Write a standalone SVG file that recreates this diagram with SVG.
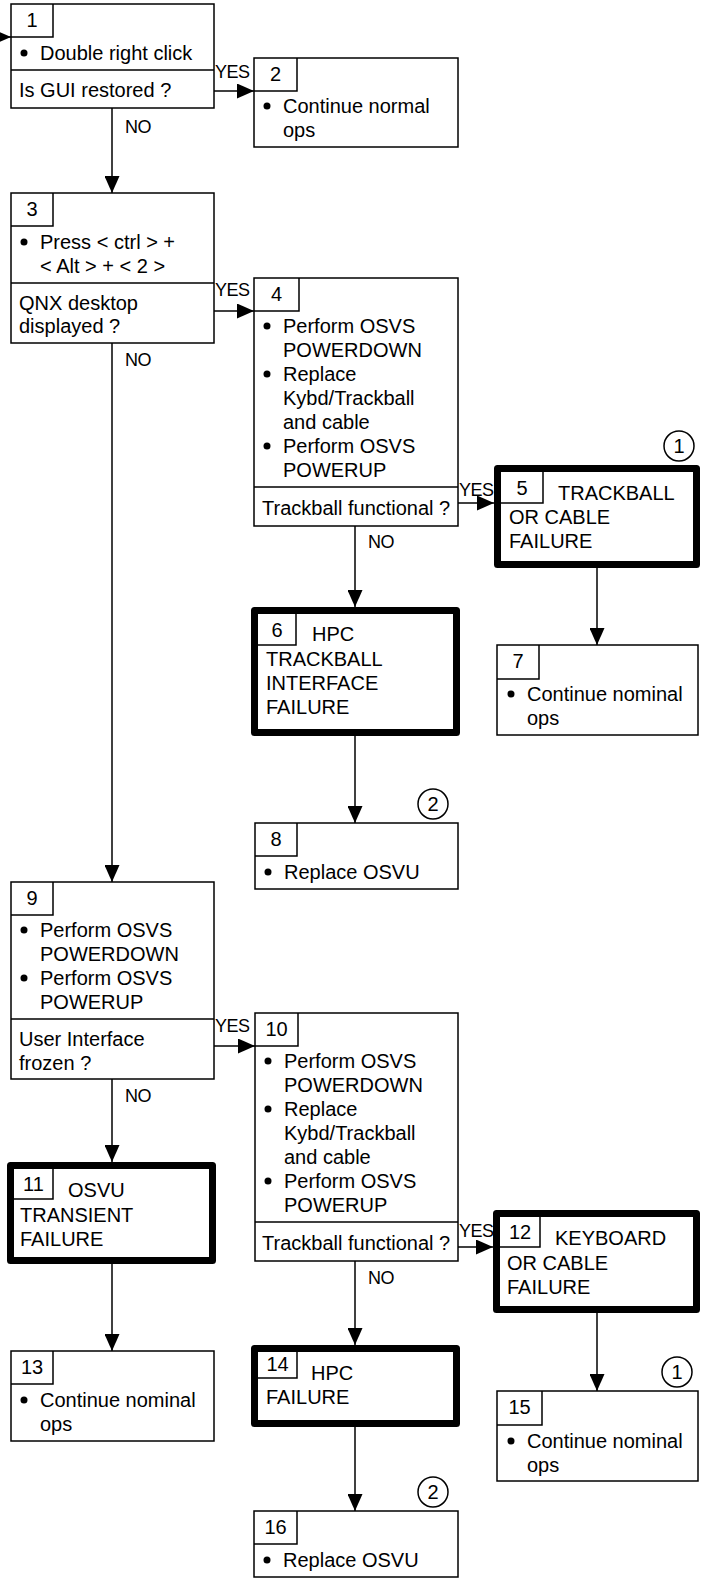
<svg xmlns="http://www.w3.org/2000/svg" width="701" height="1579" viewBox="0 0 701 1579">
<style>
.box{fill:#fff;stroke:#000;stroke-width:1.5}
.thick{fill:#fff;stroke:#000;stroke-width:7;stroke-linejoin:round}
.ln{fill:none;stroke:#000;stroke-width:1.5}
text{font-family:"Liberation Sans",Arial,sans-serif;font-size:20px;fill:#000}
.s{font-size:18px;letter-spacing:-0.5px}
.c{text-anchor:middle}
.circ{fill:#fff;stroke:#000;stroke-width:1.5}
.b{fill:#000}
</style>
<defs>
<marker id="ah" markerUnits="userSpaceOnUse" markerWidth="17" markerHeight="15" refX="17" refY="7.5" orient="auto">
<path d="M0,0 L17,7.5 L0,15 z" fill="#000"/>
</marker>
</defs>
<rect width="701" height="1579" fill="#fff"/>
<g id="connectors" class="ln" marker-end="url(#ah)">
<line x1="-10" y1="37" x2="11" y2="37"/>
<line x1="214" y1="91" x2="254" y2="91"/>
<line x1="112" y1="108" x2="112" y2="193"/>
<line x1="214" y1="311" x2="254" y2="311"/>
<line x1="112" y1="343" x2="112" y2="882"/>
<line x1="458" y1="503" x2="494" y2="503"/>
<line x1="355" y1="526" x2="355" y2="607"/>
<line x1="597" y1="568" x2="597" y2="645"/>
<line x1="355" y1="736" x2="355" y2="823"/>
<line x1="214" y1="1046" x2="255" y2="1046"/>
<line x1="112" y1="1079" x2="112" y2="1162"/>
<line x1="458" y1="1247" x2="493" y2="1247"/>
<line x1="355" y1="1261" x2="355" y2="1345"/>
<line x1="112" y1="1264" x2="112" y2="1351"/>
<line x1="597" y1="1313" x2="597" y2="1391"/>
<line x1="355" y1="1427" x2="355" y2="1511"/>
</g>
<g id="labels">
<text class="s" x="215" y="78">YES</text>
<text class="s" x="215" y="296">YES</text>
<text class="s" x="459" y="496">YES</text>
<text class="s" x="215" y="1032">YES</text>
<text class="s" x="459" y="1237">YES</text>
<text class="s" x="125" y="133">NO</text>
<text class="s" x="125" y="366">NO</text>
<text class="s" x="368" y="548">NO</text>
<text class="s" x="125" y="1102">NO</text>
<text class="s" x="368" y="1284">NO</text>
</g>
<g id="n1">
<rect class="box" x="11" y="4" width="203" height="104"/>
<path class="ln" d="M11,37 H53 V4 M11,70 H214"/>
<text class="c" x="32" y="27">1</text>
<circle class="b" cx="24" cy="53" r="3.5"/><text x="40" y="60">Double right click</text>
<text x="19" y="97">Is GUI restored ?</text>
</g>
<g id="n2">
<rect class="box" x="254" y="58" width="204" height="89"/>
<path class="ln" d="M254,91 H297 V58"/>
<text class="c" x="275.5" y="81">2</text>
<circle class="b" cx="267" cy="106" r="3.5"/><text x="283" y="113">Continue normal</text>
<text x="283" y="137">ops</text>
</g>
<g id="n3">
<rect class="box" x="11" y="193" width="203" height="150"/>
<path class="ln" d="M11,226 H53 V193 M11,283 H214"/>
<text class="c" x="32" y="216">3</text>
<circle class="b" cx="24" cy="242" r="3.5"/><text x="40" y="249">Press &lt; ctrl &gt; +</text>
<text x="40" y="273">&lt; Alt &gt; + &lt; 2 &gt;</text>
<text x="19" y="310">QNX desktop</text>
<text x="19" y="333">displayed ?</text>
</g>
<g id="n4">
<rect class="box" x="254" y="278" width="204" height="248"/>
<path class="ln" d="M254,311 H299 V278 M254,487 H458"/>
<text class="c" x="276.5" y="301">4</text>
<circle class="b" cx="267" cy="326" r="3.5"/><text x="283" y="333">Perform OSVS</text>
<text x="283" y="357">POWERDOWN</text>
<circle class="b" cx="267" cy="374" r="3.5"/><text x="283" y="381">Replace</text>
<text x="283" y="405">Kybd/Trackball</text>
<text x="283" y="429">and cable</text>
<circle class="b" cx="267" cy="446" r="3.5"/><text x="283" y="453">Perform OSVS</text>
<text x="283" y="477">POWERUP</text>
<text x="262" y="515">Trackball functional ?</text>
</g>
<g id="n5">
<rect class="thick" x="497.5" y="468.5" width="199" height="96"/>
<path class="ln" d="M501,503 H543 V472"/>
<text class="c" x="522" y="495">5</text>
<text x="558" y="500">TRACKBALL</text>
<text x="509" y="524">OR CABLE</text>
<text x="509" y="548">FAILURE</text>
</g>
<g id="m1a">
<circle class="circ" cx="679" cy="446" r="15"/>
<text class="c" x="679" y="453">1</text>
</g>
<g id="n6">
<rect class="thick" x="254.5" y="610.5" width="202" height="122"/>
<path class="ln" d="M258,645 H296 V614"/>
<text class="c" x="277" y="637">6</text>
<text x="312" y="641">HPC</text>
<text x="266" y="666">TRACKBALL</text>
<text x="266" y="690">INTERFACE</text>
<text x="266" y="714">FAILURE</text>
</g>
<g id="n7">
<rect class="box" x="497" y="645" width="201" height="90"/>
<path class="ln" d="M497,679 H539 V645"/>
<text class="c" x="518" y="668">7</text>
<circle class="b" cx="511" cy="694" r="3.5"/><text x="527" y="701">Continue nominal</text>
<text x="527" y="725">ops</text>
</g>
<g id="m2a">
<circle class="circ" cx="433" cy="804" r="15"/>
<text class="c" x="433" y="811">2</text>
</g>
<g id="n8">
<rect class="box" x="255" y="823" width="203" height="66"/>
<path class="ln" d="M255,856 H297 V823"/>
<text class="c" x="276" y="846">8</text>
<circle class="b" cx="268" cy="872" r="3.5"/><text x="284" y="879">Replace OSVU</text>
</g>
<g id="n9">
<rect class="box" x="11" y="882" width="203" height="197"/>
<path class="ln" d="M11,915 H53 V882 M11,1019 H214"/>
<text class="c" x="32" y="905">9</text>
<circle class="b" cx="24" cy="930" r="3.5"/><text x="40" y="937">Perform OSVS</text>
<text x="40" y="961">POWERDOWN</text>
<circle class="b" cx="24" cy="978" r="3.5"/><text x="40" y="985">Perform OSVS</text>
<text x="40" y="1009">POWERUP</text>
<text x="19" y="1046">User Interface</text>
<text x="19" y="1070">frozen ?</text>
</g>
<g id="n10">
<rect class="box" x="255" y="1013" width="203" height="248"/>
<path class="ln" d="M255,1046 H298 V1013 M255,1222 H458"/>
<text class="c" x="276.5" y="1036">10</text>
<circle class="b" cx="268" cy="1061" r="3.5"/><text x="284" y="1068">Perform OSVS</text>
<text x="284" y="1092">POWERDOWN</text>
<circle class="b" cx="268" cy="1109" r="3.5"/><text x="284" y="1116">Replace</text>
<text x="284" y="1140">Kybd/Trackball</text>
<text x="284" y="1164">and cable</text>
<circle class="b" cx="268" cy="1181" r="3.5"/><text x="284" y="1188">Perform OSVS</text>
<text x="284" y="1212">POWERUP</text>
<text x="262" y="1250">Trackball functional ?</text>
</g>
<g id="n11">
<rect class="thick" x="10.5" y="1165.5" width="202" height="95"/>
<path class="ln" d="M14,1199 H53 V1169"/>
<text class="c" x="33.5" y="1191">11</text>
<text x="68" y="1197">OSVU</text>
<text x="20" y="1222">TRANSIENT</text>
<text x="20" y="1246">FAILURE</text>
</g>
<g id="n12">
<rect class="thick" x="496.5" y="1213.5" width="200" height="96"/>
<path class="ln" d="M500,1247 H540 V1217"/>
<text class="c" x="520" y="1239">12</text>
<text x="555" y="1245">KEYBOARD</text>
<text x="507" y="1270">OR CABLE</text>
<text x="507" y="1294">FAILURE</text>
</g>
<g id="n13">
<rect class="box" x="11" y="1351" width="203" height="90"/>
<path class="ln" d="M11,1384 H53 V1351"/>
<text class="c" x="32" y="1374">13</text>
<circle class="b" cx="24" cy="1400" r="3.5"/><text x="40" y="1407">Continue nominal</text>
<text x="40" y="1431">ops</text>
</g>
<g id="n14">
<rect class="thick" x="254.5" y="1348.5" width="202" height="75"/>
<path class="ln" d="M258,1378 H297 V1352"/>
<text class="c" x="277.5" y="1371">14</text>
<text x="311" y="1380">HPC</text>
<text x="266" y="1404">FAILURE</text>
</g>
<g id="m1b">
<circle class="circ" cx="677" cy="1372" r="15"/>
<text class="c" x="677" y="1379">1</text>
</g>
<g id="n15">
<rect class="box" x="497" y="1391" width="201" height="90"/>
<path class="ln" d="M497,1425 H542 V1391"/>
<text class="c" x="519.5" y="1414">15</text>
<circle class="b" cx="511" cy="1441" r="3.5"/><text x="527" y="1448">Continue nominal</text>
<text x="527" y="1472">ops</text>
</g>
<g id="m2b">
<circle class="circ" cx="433" cy="1492" r="15"/>
<text class="c" x="433" y="1499">2</text>
</g>
<g id="n16">
<rect class="box" x="254" y="1511" width="204" height="66"/>
<path class="ln" d="M254,1544 H297 V1511"/>
<text class="c" x="275.5" y="1534">16</text>
<circle class="b" cx="267" cy="1560" r="3.5"/><text x="283" y="1567">Replace OSVU</text>
</g>
</svg>
